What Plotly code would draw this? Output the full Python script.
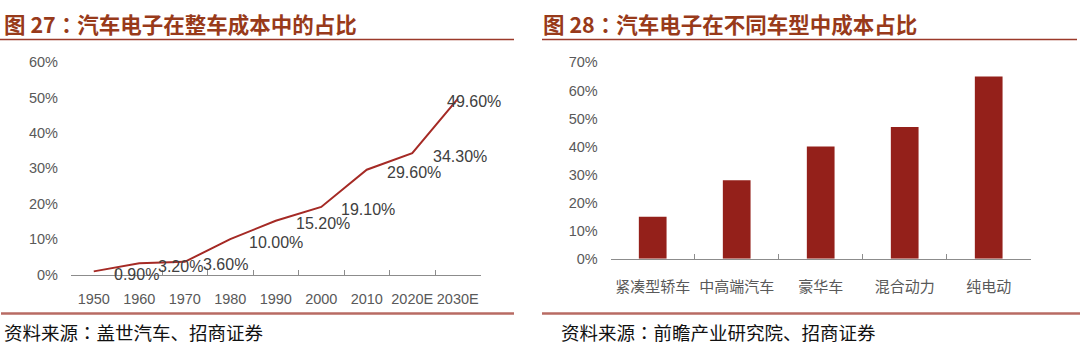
import plotly.graph_objects as go

# ---- data ----
years = ["1950", "1960", "1970", "1980", "1990", "2000", "2010", "2020E", "2030E"]
share_pct = [0.9, 3.2, 3.6, 10.0, 15.2, 19.1, 29.6, 34.3, 49.6]
share_labels = ["0.90%", "3.20%", "3.60%", "10.00%", "15.20%", "19.10%", "29.60%", "34.30%", "49.60%"]
label_dx = [18, 17, 16, 17, 18, 18, 18, 19, -13]

car_types = ["紧凑型轿车", "中高端汽车", "豪华车", "混合动力", "纯电动"]
cost_pct = [15, 28, 40, 47, 65]

COLON = '<span style="font-family:\'Noto Sans CJK TC\'">：</span>'
title_left = "图 27" + COLON + "汽车电子在整车成本中的占比"
title_right = "图 28" + COLON + "汽车电子在不同车型中成本占比"
source_left = "资料来源" + COLON + "盖世汽车、招商证券"
source_right = "资料来源" + COLON + "前瞻产业研究院、招商证券"

W, H = 1080, 351
def px(x):
    return x / W
def py(y):
    return 1 - y / H

LINE_COLOR = "#a52a25"
BAR_COLOR = "#94201a"
TITLE_COLOR = "#983a1a"
AXIS_GRAY = "#8c8c8c"
TICK_GRAY = "#595959"
LABEL_GRAY = "#404040"
CJK = "Noto Sans CJK SC"
LAT = "Liberation Sans, Arial, sans-serif"

fig = go.Figure()

fig.add_trace(go.Scatter(
    x=years, y=share_pct, mode="lines",
    line=dict(color=LINE_COLOR, width=2),
    xaxis="x", yaxis="y", showlegend=False, hoverinfo="skip",
))

fig.add_trace(go.Bar(
    x=car_types, y=cost_pct, marker=dict(color=BAR_COLOR, line=dict(width=0)),
    xaxis="x2", yaxis="y2", showlegend=False, hoverinfo="skip",
))

annotations = []
for i, (v, lab, dx) in enumerate(zip(share_pct, share_labels, label_dx)):
    annotations.append(dict(
        x=i, y=v, xref="x", yref="y", text=lab, showarrow=False,
        xanchor="left", yanchor="middle", xshift=dx, yshift=-3,
        font=dict(family=LAT, size=16, color=LABEL_GRAY),
    ))

# titles
annotations.append(dict(x=px(2), y=py(16), xref="paper", yref="paper", text="<b>" + title_left + "</b>",
                        showarrow=False, xanchor="left", yanchor="middle",
                        font=dict(family=CJK, size=21.5, color=TITLE_COLOR)))
annotations.append(dict(x=px(541), y=py(16), xref="paper", yref="paper", text="<b>" + title_right + "</b>",
                        showarrow=False, xanchor="left", yanchor="middle",
                        font=dict(family=CJK, size=21.5, color=TITLE_COLOR)))
# sources
annotations.append(dict(x=px(2), y=py(339), xref="paper", yref="paper", text=source_left,
                        showarrow=False, xanchor="left", yanchor="middle",
                        font=dict(family=CJK, size=18.5, color="#111111")))
annotations.append(dict(x=px(559), y=py(339), xref="paper", yref="paper", text=source_right,
                        showarrow=False, xanchor="left", yanchor="middle",
                        font=dict(family=CJK, size=18.5, color="#111111")))

shapes = [
    dict(type="line", xref="paper", yref="paper", x0=0, x1=px(514), y0=py(33), y1=py(33),
         line=dict(color="#9b3a2a", width=1.5)),
    dict(type="line", xref="paper", yref="paper", x0=px(542), x1=px(1077), y0=py(33), y1=py(33),
         line=dict(color="#9b3a2a", width=1.5)),
    dict(type="line", xref="paper", yref="paper", x0=px(1), x1=px(514), y0=py(320), y1=py(320),
         line=dict(color="#b86b63", width=2.5)),
    dict(type="line", xref="paper", yref="paper", x0=px(542), x1=px(1080), y0=py(320), y1=py(320),
         line=dict(color="#b86b63", width=2.5)),
]

fig.update_layout(
    width=W, height=H, autosize=False,
    margin=dict(l=0, r=0, t=0, b=0),
    paper_bgcolor="white", plot_bgcolor="white",
    bargap=0.67,
    annotations=annotations, shapes=shapes,
    xaxis=dict(domain=[px(71), px(480.5)], type="category", range=[-0.5, len(years) - 0.5],
               categoryorder="array", categoryarray=years,
               showline=True, linecolor=AXIS_GRAY, linewidth=1,
               ticks="inside", tickson="boundaries", ticklen=5, tickcolor=AXIS_GRAY,
               showgrid=False, zeroline=False, anchor="y", tickangle=0,
               tickfont=dict(family=LAT, size=14.5, color=TICK_GRAY), ticklabelstandoff=11),
    yaxis=dict(domain=[py(279.3), py(56.7)], range=[0, 60], dtick=10, ticksuffix="%",
               showline=False, showgrid=False, zeroline=False, ticks="", anchor="x",
               tickfont=dict(family=LAT, size=14.5, color=TICK_GRAY), ticklabelstandoff=12),
    xaxis2=dict(domain=[px(610.7), px(1030.7)], type="category", range=[-0.5, len(car_types) - 0.5],
                showline=True, linecolor=AXIS_GRAY, linewidth=1,
                ticks="inside", tickson="boundaries", ticklen=5, tickcolor=AXIS_GRAY,
                showgrid=False, zeroline=False, anchor="y2", tickangle=0,
                tickfont=dict(family=CJK, size=15, color=TICK_GRAY), ticklabelstandoff=14),
    yaxis2=dict(domain=[py(262.7), py(57)], range=[0, 70], dtick=10, ticksuffix="%",
                showline=False, showgrid=False, zeroline=False, ticks="", anchor="x2",
                tickfont=dict(family=LAT, size=14.5, color=TICK_GRAY), ticklabelstandoff=12),
)

fig.write_html("out.html", config={"displayModeBar": False, "responsive": False})
